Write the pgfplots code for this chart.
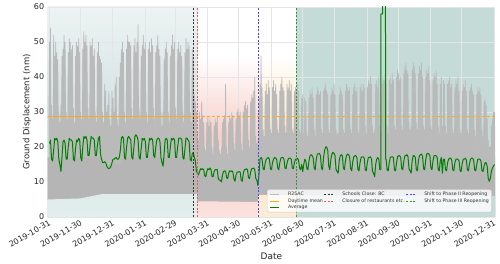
\documentclass[border=0pt]{standalone}
\usepackage{fontspec}
\setmainfont{DejaVu Sans}
\usepackage{pgfplots}
\pgfplotsset{compat=1.18}
\usepackage{pgfplotstable}

\definecolor{greyA}{RGB}{186,186,186}
\definecolor{greyB}{RGB}{181,181,181}
\definecolor{meanC}{RGB}{255,170,30}
\definecolor{avgC}{RGB}{0,128,0}
\definecolor{tealA}{RGB}{238,243,243}
\definecolor{tealB}{RGB}{210,227,227}
\definecolor{tealC}{RGB}{226,238,236}
\definecolor{tealS}{RGB}{223,236,234}
\definecolor{tealD}{RGB}{197,219,216}
\definecolor{pinkB}{RGB}{247,206,200}
\definecolor{pinkC}{RGB}{252,226,222}
\definecolor{pinkS}{RGB}{251,222,218}
\definecolor{yelB}{RGB}{251,226,185}
\definecolor{yelC}{RGB}{252,236,215}
\definecolor{yelS}{RGB}{252,234,208}
\definecolor{vred}{RGB}{238,90,90}
\definecolor{vblue}{RGB}{70,70,235}
\definecolor{vgreen}{RGB}{50,150,50}

% R25AC: alternating night trough / daytime peak, half-day steps from 2019-10-31
\pgfplotstableread[header=false,row sep=\\]{
28\\50\\28\\54\\22\\32\\20\\28\\
21\\52\\28\\46\\28\\50\\28\\47\\28\\45\\24\\30\\20\\27\\
20\\32\\22\\46\\28\\48\\28\\52\\28\\50\\24\\30\\20\\28\\
21\\47\\28\\51\\28\\50\\28\\48\\28\\49\\24\\31\\20\\27\\
21\\46\\28\\50\\28\\49\\28\\51\\28\\47\\24\\30\\20\\28\\
21\\48\\28\\53\\28\\50\\28\\52\\28\\49\\24\\31\\20\\28\\
21\\50\\28\\49\\28\\51\\28\\46\\28\\48\\24\\30\\20\\27\\
21\\47\\28\\50\\28\\46\\26\\45\\23\\44\\21\\30\\19\\27\\
20\\38\\21\\36\\19\\30\\19\\32\\20\\36\\19\\28\\18\\26\\
19\\36\\20\\34\\19\\30\\21\\38\\22\\40\\20\\28\\18\\26\\
21\\40\\25\\44\\28\\48\\28\\50\\28\\47\\24\\30\\20\\27\\
21\\48\\28\\52\\28\\50\\28\\50\\28\\49\\24\\31\\20\\28\\
21\\49\\28\\51\\28\\47\\28\\50\\28\\55\\24\\31\\20\\28\\
21\\46\\28\\49\\28\\52\\28\\48\\28\\50\\24\\30\\20\\27\\
21\\48\\28\\50\\28\\47\\28\\51\\28\\49\\24\\31\\20\\28\\
21\\47\\28\\49\\28\\52\\28\\48\\28\\46\\24\\30\\20\\26\\
20\\30\\22\\45\\28\\48\\28\\50\\28\\47\\24\\30\\20\\27\\
21\\46\\28\\49\\28\\52\\28\\48\\28\\50\\24\\31\\20\\28\\
21\\48\\28\\50\\28\\47\\28\\49\\28\\46\\24\\30\\20\\27\\
21\\47\\28\\51\\28\\48\\28\\50\\28\\49\\24\\30\\20\\27\\
21\\48\\26\\45\\22\\35\\21\\33\\19\\30\\15\\24\\14\\22\\
15\\30\\19\\28\\19\\33\\19\\29\\19\\27\\16\\20\\13\\19\\
15\\27\\19\\29\\19\\26\\19\\28\\19\\27\\16\\20\\13\\18\\
15\\26\\19\\28\\19\\27\\19\\29\\16\\22\\14\\19\\13\\18\\
13\\20\\17\\27\\19\\28\\19\\29\\19\\38\\16\\20\\13\\18\\
15\\27\\19\\29\\19\\28\\19\\30\\19\\29\\16\\21\\13\\19\\
15\\28\\19\\30\\19\\31\\19\\29\\19\\30\\16\\21\\13\\19\\
15\\30\\19\\32\\19\\33\\19\\31\\19\\32\\16\\22\\13\\20\\
15\\33\\19\\35\\19\\34\\19\\36\\19\\40\\16\\23\\13\\21\\
13\\22\\16\\34\\21\\38\\22\\46\\22\\37\\18\\25\\15\\23\\
17\\36\\22\\38\\22\\35\\22\\39\\22\\37\\18\\25\\15\\24\\
17\\37\\22\\39\\22\\36\\22\\38\\22\\35\\18\\25\\15\\24\\
17\\36\\22\\38\\22\\40\\22\\37\\22\\36\\18\\26\\15\\24\\
17\\38\\22\\37\\22\\39\\22\\36\\22\\38\\18\\25\\15\\24\\
17\\36\\22\\37\\22\\35\\22\\38\\22\\36\\18\\25\\15\\24\\
17\\34\\22\\35\\16\\24\\18\\34\\22\\33\\18\\24\\15\\23\\
17\\34\\22\\36\\22\\35\\22\\37\\22\\34\\18\\25\\15\\23\\
17\\35\\22\\37\\22\\36\\22\\35\\22\\36\\18\\25\\15\\24\\
17\\36\\22\\37\\22\\38\\22\\36\\22\\35\\18\\25\\15\\24\\
17\\35\\22\\37\\22\\36\\22\\38\\22\\35\\18\\25\\15\\24\\
15\\24\\18\\35\\22\\37\\22\\36\\22\\35\\18\\25\\15\\24\\
17\\36\\22\\38\\22\\37\\22\\36\\22\\37\\18\\25\\15\\24\\
17\\35\\22\\37\\22\\38\\22\\36\\22\\37\\18\\25\\15\\24\\
17\\37\\22\\38\\22\\36\\22\\38\\22\\37\\18\\26\\15\\24\\
17\\37\\22\\39\\22\\38\\22\\40\\22\\38\\18\\26\\15\\24\\
15\\25\\18\\38\\22\\39\\22\\37\\22\\40\\18\\26\\15\\24\\
17\\38\\22\\40\\22\\39\\22\\41\\22\\38\\18\\26\\15\\24\\
17\\39\\22\\40\\22\\38\\22\\41\\22\\39\\18\\26\\15\\25\\
17\\40\\22\\42\\22\\41\\22\\39\\22\\40\\18\\26\\15\\25\\
17\\41\\22\\43\\22\\44\\22\\42\\22\\41\\18\\27\\15\\25\\
15\\26\\18\\42\\22\\44\\22\\43\\22\\41\\18\\27\\15\\25\\
17\\41\\22\\43\\22\\42\\22\\44\\22\\40\\18\\26\\15\\25\\
17\\40\\22\\42\\22\\41\\22\\43\\22\\39\\18\\26\\15\\25\\
17\\39\\22\\41\\22\\40\\22\\42\\22\\38\\18\\26\\15\\24\\
17\\38\\22\\40\\16\\26\\18\\39\\22\\38\\18\\26\\15\\24\\
17\\38\\22\\39\\22\\40\\22\\37\\22\\38\\18\\25\\15\\24\\
17\\37\\22\\39\\22\\38\\22\\40\\22\\36\\18\\25\\15\\24\\
17\\36\\22\\38\\22\\37\\22\\39\\22\\36\\18\\25\\15\\24\\
17\\36\\22\\37\\22\\38\\22\\36\\22\\35\\18\\25\\15\\23\\
17\\35\\22\\37\\22\\36\\22\\37\\22\\35\\18\\25\\15\\23\\
17\\33\\21\\34\\20\\32\\18\\28\\15\\22\\14\\20\\14\\20\\
15\\26\\17\\28\\19\\30\\19\\30\\17\\
}\greytab

% Average, daily values (days 0..318)
\pgfplotstableread[header=false,row sep=\\]{
21\\22\\16.5\\16\\
19\\22.5\\22\\22.5\\21.5\\16.5\\15\\
13\\17\\21.5\\22\\21\\16.5\\16.5\\
20\\22.5\\22\\22\\21.5\\16.5\\16\\
19.5\\22\\21.5\\22.5\\22\\17\\16\\
20\\23\\22.5\\23\\22\\17.5\\17.5\\
20.5\\23\\22.5\\22.5\\22\\17.5\\17.5\\
20.5\\22.5\\23\\18\\16.5\\15.5\\15.5\\
15.8\\15.5\\14.5\\14\\13.8\\14\\14.5\\
15.5\\16.5\\16.5\\16.8\\17\\16.5\\16.5\\
17\\19\\22.5\\23\\22.5\\17\\16.5\\
20\\22.5\\23\\22.5\\22\\17\\16.5\\
20\\23\\23.5\\23\\22\\17\\16.5\\
19.5\\22.5\\22\\22.5\\21.5\\17\\17\\
20\\22.5\\22\\22.5\\22\\17.5\\17\\
20\\22\\22.5\\22.5\\21.5\\17\\15.5\\
14.5\\18\\22\\22.5\\22\\17\\17\\
20\\22.5\\22\\22.5\\22\\17\\17\\
20\\22.5\\22.5\\22.5\\22\\17\\16.5\\
19.5\\22.5\\22.5\\22\\21.5\\16.5\\16\\
18\\18.5\\17\\16\\13\\12.5\\12\\
13\\13.8\\13.5\\13.8\\13.5\\11.8\\11.5\\
13\\13.8\\13.5\\14\\13.5\\11.5\\11.5\\
13\\13.5\\13.5\\13.5\\11\\10.5\\10.5\\
10\\12\\13\\13.2\\13\\11.2\\11\\
12.5\\13.2\\13\\13.2\\12.8\\10.8\\10.2\\
12\\12.8\\12.8\\13\\12.8\\10.5\\10.2\\
12.5\\13.5\\13.5\\13.8\\13.5\\11.2\\11\\
12.8\\13.8\\13.8\\14\\13.5\\11\\10.5\\
9\\12\\16.5\\17\\16.5\\13.8\\13.5\\
15.5\\16.5\\16.8\\17\\16.5\\13.8\\13.5\\
15.5\\16.5\\17\\16.8\\16.5\\14\\13.5\\
15.5\\16.8\\17\\17\\16.5\\14\\13.8\\
15.5\\16.5\\16.8\\16.8\\16.5\\14\\13.8\\
15.5\\16.5\\16.5\\16.8\\16.2\\14\\13.5\\
15\\13\\15\\16.5\\16\\13.8\\13.5\\
16\\17.5\\17.8\\17.5\\17\\14\\13.5\\
16.5\\18\\18\\18.2\\17.5\\14\\13.5\\
17\\19\\20\\20\\19\\14.5\\13.5\\
16.5\\18\\18.5\\18.2\\17.5\\13.5\\13\\
12.5\\16\\17.5\\17.8\\17.5\\14\\13.5\\
16\\17.5\\18\\17.8\\17.2\\13.8\\13.2\\
15.8\\17.2\\17.5\\17.5\\17\\13.5\\13.2\\
15.5\\17\\17.2\\17.2\\16.8\\13.5\\13.2\\
15.5\\17\\17\\17.2\\16.5\\13\\12.5\\
11.5\\15\\16.5\\17\\16.5\\13.5\\13.5\\
}\avgA

% Average, daily values (days 323..427)
\pgfplotstableread[header=false,row sep=\\]{
16.5\\13.5\\13.2\\
15.5\\17\\17.2\\17.2\\17\\13.5\\13.2\\
15.5\\17.2\\17.5\\17.5\\17\\13.8\\13.5\\
16\\17.5\\17.5\\17.8\\17.2\\13.8\\13.2\\
12.5\\16\\17.5\\17.5\\17\\13.5\\13.2\\
16\\17.5\\17.8\\18\\17.2\\13.8\\13.5\\
16.2\\18\\18.2\\18\\17.5\\14\\13.5\\
16\\17.5\\17.5\\17.5\\17\\13.5\\13.2\\
16\\17\\12.5\\16.5\\16.5\\13.5\\13.2\\
15.5\\16.5\\16.8\\16.8\\16.2\\13.5\\13.2\\
15.5\\16.5\\16.5\\16.5\\16\\13.2\\13\\
15.2\\16.5\\16.5\\16.8\\16.2\\13.5\\13.2\\
15.2\\16.5\\16.8\\16.8\\16.2\\13.5\\13.2\\
15\\16.5\\16.5\\16.5\\16\\13.2\\13\\
14.5\\15.5\\15.5\\14.5\\11\\10.2\\11\\
13\\14\\14.5\\15\\
}\avgB

\begin{document}
\begin{tikzpicture}
\begin{axis}[
  set layers,
  at={(0,0)}, anchor=south west,
  width=447.3pt, height=210pt, scale only axis,
  xmin=-1.2, xmax=428, ymin=0, ymax=60,
  xtick={0,30,61,92,121,152,182,213,243,274,305,335,366,396,427},
  xticklabels={2019-10-31,2019-11-30,2019-12-31,2020-01-31,2020-02-29,2020-03-31,2020-04-30,2020-05-31,2020-06-30,2020-07-31,2020-08-31,2020-09-30,2020-10-31,2020-11-30,2020-12-31},
  ytick={0,10,20,30,40,50,60},
  grid=major, grid style={black!10, line width=0.6pt},
  axis line style={draw=none},
  major tick length=0pt,
  tick label style={font=\fontsize{8}{9}\selectfont, text=black!85},
  xticklabel style={rotate=30, anchor=north east, inner sep=1.5pt},
  /pgf/number format/assume math mode=true,
  xlabel={Date}, ylabel={Ground Displacement (nm)},
  xlabel style={font=\fontsize{9}{10}\selectfont, text=black!85, at={(axis description cs:0.5,0)}, anchor=center, yshift=-39pt},
  ylabel style={font=\fontsize{8.5}{9.5}\selectfont, text=black!85, at={(axis description cs:-0.0463,0.5)}, anchor=center},
  legend columns=3,
  legend cell align=left,
  legend image code/.code={\draw[#1] (0pt,0pt) -- (9pt,0pt);},
  legend style={at={(0.993,0.022)}, anchor=south east,
    font=\fontsize{4.7}{5.2}\selectfont, text=black!80,
    fill=white, fill opacity=0.8, text opacity=1, draw=black!20, draw opacity=1,
    rounded corners=1.5pt, inner xsep=2pt, inner ysep=1pt,
    nodes={inner sep=0.9pt},
    /tikz/every odd column/.append style={column sep=8pt}},
]
% background spans
\addplot[forget plot, on layer=axis background, draw=none, top color=tealA, bottom color=tealC, middle color=tealB] coordinates {(-1.2,60) (142.3,60)} \closedcycle;
\addplot[forget plot, on layer=axis background, draw=none, top color=white, bottom color=pinkC, middle color=pinkB] coordinates {(142.3,46) (201.2,46)} \closedcycle;
\addplot[forget plot, on layer=axis background, draw=none, top color=white, bottom color=yelC, middle color=yelB] coordinates {(201.2,46) (237.3,46)} \closedcycle;
\addplot[forget plot, on layer=axis background, draw=none, fill=tealD] coordinates {(237.3,60) (428,60)} \closedcycle;

% R25AC: daily spikes, denser lower band
\addplot[forget plot, fill=greyA, draw=greyA, line width=0.7pt, line join=bevel] table[x expr=\coordindex*0.5, y index=0] {\greytab} \closedcycle;
\addplot[forget plot, fill=greyB, draw=none] coordinates {(-1.2,17) (48,17) (52,15) (68,15) (71,17) (137,17) (142,12) (200,11.5) (202,14) (428,14)} \closedcycle;
% quiet floor below the lowest displacement (background shows through)
\addplot[forget plot, draw=none, top color=tealS, bottom color=tealC] coordinates {(-1.2,5) (30,5.3) (50,6.5) (142.3,6.5)} \closedcycle;
\addplot[forget plot, draw=none, top color=pinkS, bottom color=pinkC] coordinates {(142.3,4.5) (170,4.4) (201.2,4.3)} \closedcycle;
\addplot[forget plot, draw=none, top color=yelS, bottom color=yelC] coordinates {(201.2,6.3) (237.3,6.2)} \closedcycle;
\addplot[forget plot, draw=none, fill=tealD] coordinates {(237.3,6.2) (428,6)} \closedcycle;

% daytime mean
\addplot[forget plot, meanC, line width=0.9pt] coordinates {(-1.2,28.6) (142.3,28.6)};
\addplot[forget plot, meanC, line width=0.9pt, dash pattern=on 3pt off 2pt] coordinates {(142.3,28.6) (428,28.6)};

% average
\addplot[forget plot, avgC, line width=1pt, line join=round] table[x expr=\coordindex+0.5, y index=0] {\avgA};
\addplot[forget plot, avgC, line width=1pt, line join=round] coordinates {(318.5,13.5) (318.6,58) (320.2,58) (320.25,64) (322.9,64) (323,16.5) (323.5,16.5)};
\addplot[forget plot, avgC, line width=1pt, line join=round] table[x expr=\coordindex+323.5, y index=0] {\avgB};

% event lines
\addplot[forget plot, black!80, line width=0.7pt, dash pattern=on 2pt off 1.5pt] coordinates {(138.4,0) (138.4,60)};
\addplot[forget plot, vred, line width=0.7pt, dash pattern=on 2pt off 1.5pt] coordinates {(142.3,0) (142.3,60)};
\addplot[forget plot, vblue, line width=0.7pt, dash pattern=on 2pt off 1.5pt] coordinates {(201.2,0) (201.2,60)};
\addplot[forget plot, vgreen, line width=0.7pt, dash pattern=on 2pt off 1.5pt] coordinates {(237.3,0) (237.3,60)};

% legend (row-major order of a 3-column legend)
\addlegendimage{greyA, line width=1pt}
\addlegendentry{R25AC}
\addlegendimage{black!80, line width=0.7pt, dash pattern=on 2pt off 1.5pt}
\addlegendentry{Schools Close: BC}
\addlegendimage{vblue, line width=0.7pt, dash pattern=on 2pt off 1.5pt}
\addlegendentry{Shift to Phase II Reopening}
\addlegendimage{meanC, line width=1pt}
\addlegendentry{Daytime mean}
\addlegendimage{vred, line width=0.7pt, dash pattern=on 2pt off 1.5pt}
\addlegendentry{Closure of restaurants etc.}
\addlegendimage{vgreen, line width=0.7pt, dash pattern=on 2pt off 1.5pt}
\addlegendentry{Shift to Phase III Reopening}
\addlegendimage{avgC, line width=1pt}
\addlegendentry{Average}
\end{axis}
\path (-47.7pt,-47pt) rectangle (452.3pt,217pt);
\end{tikzpicture}
\end{document}
